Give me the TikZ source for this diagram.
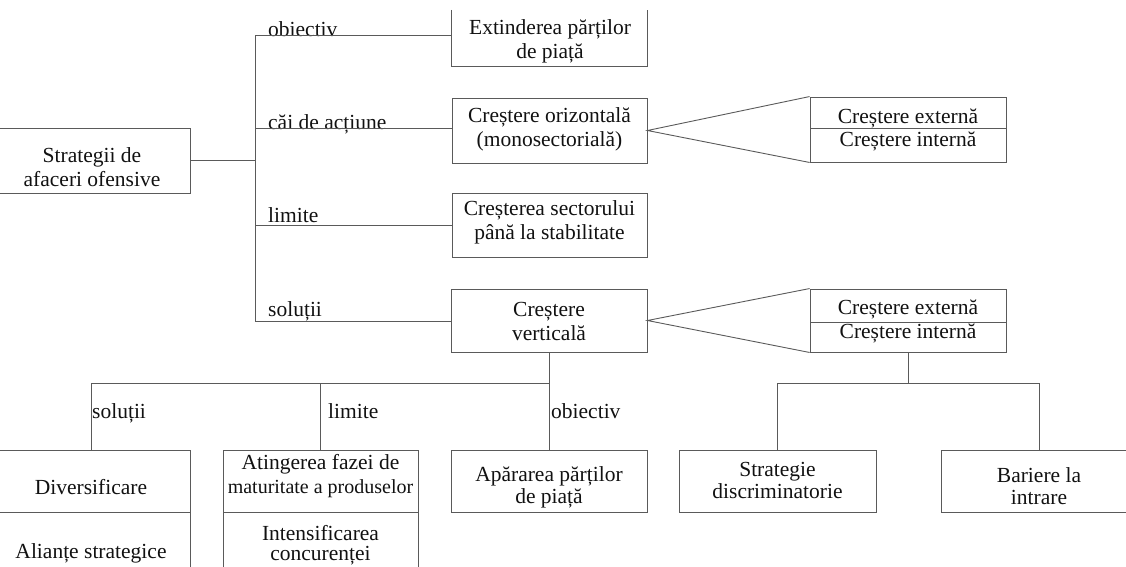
\documentclass[tikz,border=0pt]{standalone}
\usepackage{fontspec}
\setmainfont{Liberation Serif}
\begin{document}
\begin{tikzpicture}[x=1pt,y=-1pt,
  every node/.style={font=\fontsize{21.5}{24}\selectfont, text=txt, inner sep=0pt},
  frame/.style={draw=lc, line width=0.9pt, minimum width=#1},
  frame/.default=195pt,
  label/.style={anchor=base west},
  btext/.style={align=center},
  conn/.style={draw=lc, line width=0.9pt}
]
\definecolor{lc}{HTML}{5A5A5A}
\definecolor{txt}{HTML}{111111}
\useasboundingbox (0,0) rectangle (1126,566);
\clip (0,0) rectangle (1126,566);

% ---------- boxes ----------
\node[frame=196pt, minimum height=65pt] (root) at (92,160.5) {};
\node[minimum width=195pt, minimum height=56pt] (b1) at (549.5,38) {};
\draw[conn] (b1.north west) -- (b1.south west) -- (b1.south east) -- (b1.north east);
\node[frame, minimum height=65pt] (b2) at (549.5,130.5) {};
\node[frame, minimum height=64pt] (b3) at (549.5,225) {};
\node[frame=196pt, minimum height=63pt] (b4) at (549,320.5) {};

\node[frame=196pt, minimum height=31pt] (r1a) at (908,112.5) {};
\node[frame=196pt, minimum height=34pt] (r1b) at (908,145) {};
\node[frame=196pt, minimum height=33pt] (r2a) at (908,305.5) {};
\node[frame=196pt, minimum height=30pt] (r2b) at (908,337) {};

\node[frame=198pt, minimum height=62pt] (d1a) at (91,481) {};
\node[frame=198pt, minimum height=88pt] (d1b) at (91,556) {};
\node[frame, minimum height=62pt] (d2a) at (320.5,481) {};
\node[frame, minimum height=88pt] (d2b) at (320.5,556) {};
\node[frame=196pt, minimum height=62pt] (d3) at (549,481) {};
\node[frame=197pt, minimum height=62pt] (d4) at (777.5,481) {};
\node[frame=196pt, minimum height=62pt] (d5) at (1039,481) {};

% ---------- texts ----------
\node[btext] (t-root) at (92,167.5) {Strategii de\\afaceri ofensive};
\node[btext] (t-b1) at (550,41.7) {Extinderea părților\\de piață};
\node[btext] (t-b2) at (549.5,129) {Creștere orizontală\\(monosectorială)};
\node[btext] (t-b3) at (549.5,222.5) {Creșterea sectorului\\până la stabilitate};
\node[btext] (t-b4) at (549,321.7) {Creștere\\verticală};
\node (t-r1a) at (908,118.3) {Creștere externă};
\node (t-r1b) at (908,141.7) {Creștere internă};
\node (t-r2a) at (908,309) {Creștere externă};
\node (t-r2b) at (908,333.3) {Creștere internă};
\node (t-d1a) at (91,486.7) {Diversificare};
\node (t-d1b) at (91,553.3) {Alianțe strategice};
\node[btext] (t-d2a) at (320.5,475.8) {Atingerea fazei de\\{\fontsize{20}{24}\selectfont maturitate a produselor}};
\node[btext, font=\fontsize{21.5}{20.5}\selectfont] (t-d2b) at (320.5,545) {Intensificarea\\concurenței};
\node[btext, font=\fontsize{21.5}{22}\selectfont] (t-d3) at (549,487.5) {Apărarea părților\\de piață};
\node[btext, font=\fontsize{21.5}{22}\selectfont] (t-d4) at (777.5,480.8) {Strategie\\discriminatorie};
\node[btext, font=\fontsize{21.5}{22}\selectfont] (t-d5) at (1039,485.8) {Bariere la\\intrare};

% ---------- labels ----------
\node[label] (l-ob) at (268,36.5) {obiectiv};
\node[label] (l-ca) at (268,129.5) {căi de acțiune};
\node[label] (l-li) at (268,222) {limite};
\node[label] (l-so) at (268,316.5) {soluții};
\node[label] (l-so2) at (92,418) {soluții};
\node[label] (l-li2) at (328,418) {limite};
\node[label] (l-ob2) at (551,418) {obiectiv};

% ---------- connectors ----------
\coordinate (j1) at (255,35);
\coordinate (j2) at (255,128);
\coordinate (j3) at (255,225);
\coordinate (j4) at (255,321.5);
\draw[conn] (root.east) -- (root.east -| j1);
\draw[conn] (j1) -- (j4);
\draw[conn] (j1) -- (j1 -| b1.west);
\draw[conn] (j2) -- (j2 -| b2.west);
\draw[conn] (j3) -- (j3 -| b3.west);
\draw[conn] (j4) -- (j4 -| b4.west);

\draw[conn] (r1a.north west) -- (b2.east) -- (r1b.south west);
\draw[conn] (r2a.north west) -- (b4.east) -- (r2b.south west);

\coordinate (k0) at (549,383);
\coordinate (k1) at (91,383);
\coordinate (k2) at (320.5,383);
\draw[conn] (b4.south) -- (d3.north);
\draw[conn] (k1) -- (k0);
\draw[conn] (k1) -- (d1a.north);
\draw[conn] (k2) -- (d2a.north);

\coordinate (m0) at (908,383);
\coordinate (m1) at (777.5,383);
\coordinate (m2) at (1039,383);
\draw[conn] (r2b.south) -- (m0);
\draw[conn] (m1) -- (m2);
\draw[conn] (m1) -- (d4.north);
\draw[conn] (m2) -- (d5.north);
\end{tikzpicture}
\end{document}
